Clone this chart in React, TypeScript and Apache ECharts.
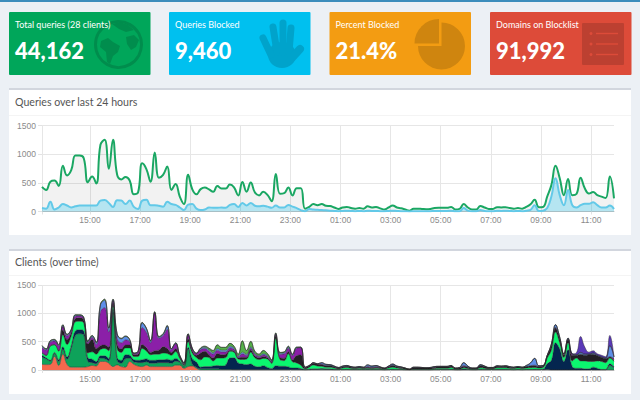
import React, { useEffect, useRef } from "react";
import * as echarts from "echarts";

const tickHours = [15, 17, 19, 21, 23, 25, 27, 29, 31, 33, 35];
const tickLabels = ["15:00", "17:00", "19:00", "21:00", "23:00", "01:00", "03:00", "05:00", "07:00", "09:00", "11:00"];
const cards = [
  { label: "Total queries (28 clients)", value: "44,162" },
  { label: "Queries Blocked", value: "9,460" },
  { label: "Percent Blocked", value: "21.4%" },
  { label: "Domains on Blocklist", value: "91,992" },
];

const total = [430,375,520,540,445,800,630,720,975,975,930,510,610,490,1165,1250,745,1250,640,560,600,540,300,330,840,740,520,1030,590,640,785,375,480,260,130,640,385,300,390,420,385,345,445,400,400,470,420,280,515,345,505,330,280,345,290,180,655,310,320,420,280,405,405,50,80,130,110,130,100,95,70,45,70,80,60,50,60,50,90,70,80,55,35,70,105,70,55,35,15,50,50,45,40,45,60,65,65,65,80,35,45,130,70,35,35,95,70,45,45,75,70,75,60,50,60,50,80,125,205,75,80,260,460,800,580,285,565,285,305,590,405,315,340,285,260,235,610,230];
const blocked = [60,50,170,35,70,130,105,70,90,105,105,105,105,105,190,200,150,80,195,190,130,190,80,45,190,205,110,110,100,85,170,130,115,70,25,120,130,50,25,35,70,65,65,70,65,115,130,80,150,105,150,100,90,100,85,65,105,70,70,115,85,60,25,5,45,35,30,25,20,15,10,5,10,15,10,5,10,5,15,10,10,5,5,10,15,10,5,5,0,5,5,5,5,5,10,10,10,10,15,5,5,60,15,5,5,25,10,5,5,15,10,15,10,5,10,5,15,30,110,10,15,60,260,580,285,110,375,110,70,110,135,135,160,110,70,70,105,45];

const clientRed = [100,95,100,240,80,280,100,50,50,50,50,60,80,70,150,150,120,60,90,60,50,150,100,70,60,85,60,60,60,60,60,60,85,85,30,60,70,30];
const clientGreen = [130,100,60,50,70,80,90,330,560,590,570,90,50,40,60,50,40,950,80,60,150,60,40,60,70,60,60,60,70,70,70,60,70,50,30,310,30,20,20,20,20,20,20,10,10,10,5,5,5,5,5,5,5,5,5,5,5,5,5,5,5,5,5,0,5,10,10,15,10,10,5,5,5,10,5,5,5,5,5,5,5,5,0,5,5,5,5,0,0,0,0,0,0,0,5,5,5,5,10,0,0,5,5,0,0,5,5,5,5,5,5,5,5,0,5,0,5,5,5,5,5,10,0,0,0,0,0,0,0,0,0,0,0,0,0,0,80,40];
const clientNavy = [30,20,10,20,30,50,40,50,80,70,70,60,60,40,40,50,40,60,50,50,70,50,40,40,50,50,50,50,50,50,60,50,50,20,10,30,100,90,30,40,40,50,60,60,80,200,210,120,100,90,100,60,50,70,40,20,70,60,60,50,30,30,20,5,10,10,10,10,10,10,5,5,5,5,5,5,5,5,10,5,5,5,5,5,10,5,5,5,5,5,5,5,5,5,5,5,5,5,5,5,5,15,5,5,5,10,5,5,5,10,10,10,5,5,5,5,5,5,10,5,10,100,170,480,370,150,360,60,30,30,20,20,50,30,10,10,30,20];
const clientBright = [40,40,250,130,150,210,220,170,160,150,140,90,130,130,110,130,140,60,160,140,120,130,60,70,200,140,100,110,100,120,100,90,120,50,20,100,100,80,130,170,160,90,130,140,130,120,100,70,80,100,210,150,130,130,150,90,480,120,100,230,110,90,60,15,35,70,50,40,30,30,25,10,25,30,20,15,20,15,15,15,20,15,10,25,35,25,15,10,0,10,10,10,10,10,15,20,20,20,30,10,10,20,15,10,10,25,20,10,10,25,25,25,20,20,25,20,25,30,30,25,30,100,180,190,110,70,120,100,180,130,140,130,100,130,140,120,100,90];
const clientBlack = [10,10,10,10,20,90,90,60,60,60,50,160,220,100,70,60,60,50,80,60,50,50,30,40,70,60,40,60,70,110,90,50,50,20,15,50,40,40,120,100,50,50,80,60,60,20,20,20,40,30,40,30,30,30,20,20,40,30,40,40,30,130,180,20,20,30,30,30,25,25,20,15,20,20,20,15,20,15,20,20,20,20,15,20,30,20,20,15,10,25,25,20,20,20,25,25,25,25,25,15,20,25,25,15,15,35,30,20,20,25,20,25,20,20,20,20,25,30,30,25,25,40,80,70,60,50,60,100,50,120,100,120,130,90,70,70,20,30];
const clientPurple = [90,85,60,60,70,60,60,40,40,35,30,30,40,70,600,660,270,40,100,110,90,60,20,35,300,270,170,670,210,200,340,50,90,25,15,70,30,30,60,50,60,70,60,50,40,40,30,20,60,30,30,30,25,30,25,20,30,60,80,60,80,130,130,5,5,5,5,10,5,5,5,5,5,5,5,5,5,5,10,5,10,5,0,5,5,5,5,0,0,5,5,5,0,5,5,5,5,5,5,0,5,15,5,0,0,5,5,0,0,5,5,5,5,0,0,0,0,5,10,5,0,0,10,10,10,5,5,15,0,0,0,0,0,0,0,0,0,30];
const clientBlue = [20,15,20,20,15,20,20,10,15,10,10,10,20,30,120,130,65,20,70,70,60,30,5,10,80,65,30,10,20,20,55,10,10,5,5,15,10,5,20,20,25,25,30,30,30,30,20,15,30,20,20,15,10,20,15,10,15,20,20,20,15,10,5,5,5,5,5,25,20,15,10,5,10,10,5,5,5,5,30,20,20,5,5,10,20,10,5,5,0,5,5,5,5,5,5,5,5,5,5,5,5,50,15,5,5,15,5,5,5,5,5,5,5,5,5,5,20,50,120,10,10,10,20,50,30,10,20,10,10,30,20,10,20,10,10,10,200,20];
const clientLime = [10,10,10,10,10,10,10,10,10,10,10,10,10,10,15,20,10,10,10,10,10,10,5,5,10,10,10,10,10,10,10,5,5,5,5,5,5,5,10,20,30,40,65,50,50,50,35,30,200,70,100,40,30,60,35,15,15,15,15,15,10,10,5];
const clientIndigo = [0,0,0,0,0,0,0,0,0,0,0,0,0,0,0,0,0,0,0,0,0,0,0,0,0,0,0,0,0,0,0,0,0,0,0,0,0,0,0,0,0,0,0,0,0,0,0,0,0,0,0,0,0,0,0,0,0,0,0,0,0,0,0,0,0,0,0,0,0,0,0,0,0,0,0,0,0,0,0,0,0,0,0,0,0,0,0,0,0,0,0,0,0,0,0,0,0,0,0,0,0,0,0,0,0,0,0,0,0,0,0,0,0,0,0,0,0,0,0,0,0,0,0,0,0,0,0,0,35,280,125,35,40,25,30,25,180,0];

const clientLayers = [
  { values: clientRed, color: "#f4694e" },
  { values: clientGreen, color: "#0ea25a" },
  { values: clientNavy, color: "#04264f" },
  { values: clientBright, color: "#0bf56f" },
  { values: clientBlack, color: "#231f25" },
  { values: clientPurple, color: "#8b1fa8" },
  { values: clientBlue, color: "#5f8fe8" },
  { values: clientLime, color: "#55b04a" },
  { values: clientIndigo, color: "#5a38b8" },
];

const hourOf = (i: number) => 13 + 5 / 60 + i / 6;
const bins = total.map((_, i) => hourOf(i));
const pairs = (values: number[]) => total.map((_, i) => [hourOf(i), values[i] ?? 0]);
const filled = (values: number[]) => total.map((_, i) => values[i] ?? 0);

const timeAxis = (gridIndex: number) => ({
  type: "value",
  gridIndex,
  position: "bottom",
  min: bins[0],
  max: bins[bins.length - 1],
  axisLine: { show: true, onZero: false, lineStyle: { color: "#c4c4c4" } },
  axisTick: { show: true, length: 3, customValues: [bins[0], ...tickHours], lineStyle: { color: "#e2e2e2" } },
  splitLine: { show: true, lineStyle: { color: "#e6e6e6", width: 1 } },
  axisLabel: {
    customValues: tickHours,
    color: "#8a8a8a",
    fontFamily: "Liberation Sans",
    fontSize: 8.5,
    margin: 4,
    formatter: (v: number) => tickLabels[tickHours.indexOf(v)] ?? "",
  },
});
const yAxis = (gridIndex: number) => ({
  type: "value",
  gridIndex,
  min: 0,
  max: 1500,
  interval: 500,
  axisLine: { show: false },
  axisTick: { show: true, length: 4, lineStyle: { color: "#e2e2e2" } },
  splitLine: { show: true, lineStyle: { color: "#e6e6e6", width: 1 } },
  axisLabel: { color: "#8a8a8a", fontFamily: "Liberation Sans", fontSize: 8.5, margin: 6, formatter: (v: number) => String(v) },
});

const rect = (x: number, y: number, w: number, h: number, fill: string, z = -5, r = 0) => ({
  type: "rect", z, shape: { x, y, width: w, height: h, r }, style: { fill },
});
const label = (x: number, y: number, text: string, font: string, fill: string) => ({
  type: "text", z: 20, x, y, style: { text, font, fill, verticalAlign: "middle", align: "left" },
});
const stroke = (pts: number[][], color: string, lineWidth: number) => ({
  type: "polyline", z: -3, shape: { points: pts }, style: { stroke: color, lineWidth, lineCap: "round", fill: "none" },
});
const poly = (pts: number[][], fill: string) => ({ type: "polygon", z: -3, shape: { points: pts }, style: { fill } });

const cardX = [9, 169, 329.5, 490];
const cardFill = ["#00a65a", "#00c0ef", "#f39c12", "#dd4b39"];
const iconFill = ["#008d4d", "#00a3cb", "#cf850f", "#bc4031"];
const lineFill = "#dd4b39";

const graphics: any[] = [
  rect(0, 0, 640, 400, "#ecf0f5", -10),
  rect(0, 0, 640, 2, "#3c8dbc"),
  rect(9, 88, 622, 147, "#ffffff"),
  rect(9, 88, 622, 2, "#d2d6de", -4),
  rect(9, 115, 622, 1, "#f4f4f4", -4),
  rect(9, 249, 622, 145, "#ffffff"),
  rect(9, 249, 622, 2, "#d2d6de", -4),
  rect(9, 275, 622, 1, "#f4f4f4", -4),
  ...cards.flatMap((c, i) => [
    rect(cardX[i], 12, 141.5, 63, cardFill[i], -4, 1),
    label(cardX[i] + 6, 24.5, c.label, "9px Lato", "#ffffff"),
    label(cardX[i] + 6, 50.5, c.value, "900 22px Lato", "#ffffff"),
  ]),
  // globe
  { type: "circle", z: -3, shape: { cx: 118.5, cy: 44.5, r: 23 }, style: { fill: "none", stroke: iconFill[0], lineWidth: 3 } },
  poly([[101,41],[108,38],[113,42],[120,46],[118,52],[113,56],[110,64],[107,62],[106,52],[100,47]], iconFill[0]),
  poly([[126,37],[134,35],[139,40],[136,47],[131,50],[127,44]], iconFill[0]),
  poly([[112,24],[120,22],[128,25],[134,30],[126,32],[119,29]], iconFill[0]),
  // hand
  { type: "ellipse", z: -3, shape: { cx: 282, cy: 55, rx: 14, ry: 13 }, style: { fill: iconFill[1] } },
  stroke([[263, 38], [271, 55]], iconFill[1], 7),
  stroke([[273, 27], [277, 52]], iconFill[1], 7),
  stroke([[283, 23], [283, 52]], iconFill[1], 7),
  stroke([[291, 28], [289, 52]], iconFill[1], 7),
  stroke([[300, 49], [290, 60]], iconFill[1], 8),
  // pie
  { type: "sector", z: -3, shape: { cx: 441.5, cy: 46, r: 23.5, r0: 0, startAngle: -Math.PI / 2, endAngle: Math.PI, clockwise: true }, style: { fill: iconFill[2] } },
  { type: "sector", z: -3, shape: { cx: 439, cy: 43.5, r: 24.5, r0: 0, startAngle: Math.PI, endAngle: Math.PI * 1.5, clockwise: true }, style: { fill: iconFill[2] } },
  // list
  rect(582, 23, 42, 42, iconFill[3], -3, 1),
  ...[33.5, 44, 54.5].flatMap((y) => [
    { type: "circle", z: -2, shape: { cx: 591, cy: y, r: 1.5 }, style: { fill: lineFill } },
    rect(596, y - 0.7, 22, 1.4, lineFill, -2),
  ]),
  label(15, 102, "Queries over last 24 hours", "10.6px Lato", "#555555"),
  label(15, 262, "Clients (over time)", "10.6px Lato", "#555555"),
];

const option: any = {
  animation: false,
  backgroundColor: "#ecf0f5",
  graphic: { elements: graphics },
  grid: [
    { left: 42, right: 26, top: 125.5, height: 86 },
    { left: 42, right: 26, top: 285, height: 85 },
  ],
  xAxis: [
    timeAxis(0),
    timeAxis(1),
    { type: "category", gridIndex: 1, position: "top", show: false, boundaryGap: false, data: bins.map(String) },
  ],
  yAxis: [yAxis(0), yAxis(1)],
  series: [
    {
      name: "Total", type: "line", xAxisIndex: 0, yAxisIndex: 0, data: pairs(total), smooth: 0.45, symbol: "none",
      lineStyle: { color: "#1aa763", width: 2 }, areaStyle: { color: "rgba(0,0,0,0.075)" }, z: 3,
    },
    {
      name: "Blocked", type: "line", xAxisIndex: 0, yAxisIndex: 0, data: pairs(blocked), smooth: 0.45, symbol: "none",
      lineStyle: { color: "#62c9e8", width: 2 }, areaStyle: { color: "rgba(0,192,239,0.36)" }, z: 4,
    },
    ...clientLayers.map((l, i) => ({
      name: `Client ${i + 1}`, type: "line", xAxisIndex: 2, yAxisIndex: 1, stack: "clients", data: filled(l.values),
      smooth: 0.45, symbol: "none", lineStyle: { color: "rgba(40,40,40,0.45)", width: 1 },
      areaStyle: { color: l.color, opacity: 1 }, z: 3,
    })),
  ],
};

export default function App() {
  const ref = useRef<HTMLDivElement>(null);
  useEffect(() => {
    const chart = echarts.init(ref.current!, undefined, { renderer: "svg" });
    chart.setOption(option);
    return () => chart.dispose();
  }, []);
  return <div ref={ref} style={{ position: "fixed", left: 0, top: 0, width: 640, height: 400 }} />;
}
